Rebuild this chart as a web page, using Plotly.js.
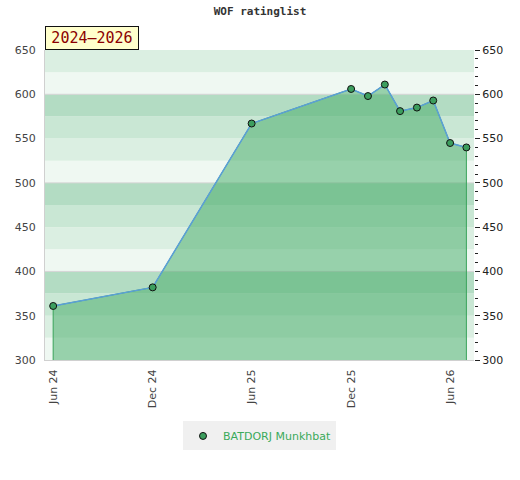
<!DOCTYPE html>
<html>
<head>
<meta charset="utf-8">
<script src="https://cdn.plot.ly/plotly-3.0.1.min.js"></script>
<style>html,body{margin:0;padding:0;background:#fff;}#chart{width:520px;height:480px;}</style>
</head>
<body>
<div id="chart"></div>
<script>
// ---- data ----
var playerName = "BATDORJ Munkhbat";
var dates = ["2024-06-01","2024-12-01","2025-06-01","2025-12-01","2026-01-01","2026-02-01","2026-03-01","2026-04-01","2026-05-01","2026-06-01","2026-07-01"];
var ratings = [361, 382, 567, 606, 598, 611, 581, 585, 593, 545, 540];
var tickDates = ["2024-06-01","2024-12-01","2025-06-01","2025-12-01","2026-06-01"];
var tickLabels = ["Jun 24","Dec 24","Jun 25","Dec 25","Jun 26"];
var periodLabel = "2024\u20132026";
var yMin = 300, yMax = 650;

// ---- style ----
var bandColors = ["#b3dcc3", "#c9e7d4", "#dbefe2", "#eff8f2"]; // top to bottom within each 100
var shapes = [];
for (var v = yMin; v < yMax; v += 25) {
  var idx = 3 - (((v - yMin) / 25) % 4);
  shapes.push({type:"rect", xref:"paper", yref:"y", x0:0, x1:1, y0:v, y1:v+25,
    fillcolor:bandColors[idx], line:{width:0}, layer:"below"});
}
for (var g = 400; g < yMax; g += 100) {
  shapes.push({type:"line", xref:"paper", yref:"y", x0:0, x1:1, y0:g, y1:g,
    line:{color:"#d4d4d4", width:1}, layer:"below"});
}

var fillX = [dates[0]].concat(dates).concat([dates[dates.length-1]]);
var fillY = [yMin].concat(ratings).concat([yMin]);

var traces = [
  {x: fillX, y: fillY, type:"scatter", mode:"lines", fill:"toself",
   fillcolor:"rgba(70,172,105,0.52)", line:{color:"#3aa35a", width:1},
   hoverinfo:"skip", showlegend:false},
  {x: dates, y: ratings, type:"scatter", mode:"lines",
   line:{color:"#5b9fd8", width:1.5}, showlegend:false},
  {x: dates, y: ratings, type:"scatter", mode:"markers", name: playerName,
   marker:{color:"#3c9e5e", size:7, line:{color:"#111", width:1}}},
  {x: [dates[0]], y: [ratings[0]], yaxis:"y2", type:"scatter", mode:"markers",
   marker:{opacity:0}, showlegend:false, hoverinfo:"skip"}
];

var layout = {
  width:520, height:480,
  margin:{l:45, r:46, t:50, b:120},
  paper_bgcolor:"#ffffff", plot_bgcolor:"#ffffff",
  font:{family:"DejaVu Sans", size:11, color:"#444"},
  title:{text:"WOF ratinglist", x:0.5, xanchor:"center", y:0.985, yanchor:"top",
    font:{family:"DejaVu Sans Mono", size:11, color:"#333", weight:"bold"}},
  xaxis:{type:"date", range:["2024-05-17","2026-07-15"], tickvals:tickDates, ticktext:tickLabels,
    tickangle:-90, showgrid:false, zeroline:false, showline:true, linecolor:"#d0d0d0",
    ticks:"outside", ticklen:4, tickcolor:"rgba(0,0,0,0)", tickfont:{color:"#444", size:11}},
  yaxis:{range:[yMin, yMax], dtick:50, showgrid:false, zeroline:false, showline:true,
    linecolor:"#d0d0d0", mirror:false, ticks:"outside", ticklen:6, tickcolor:"rgba(0,0,0,0)",
    tickfont:{color:"#444", size:11}},
  yaxis2:{range:[yMin, yMax], dtick:50, overlaying:"y", side:"right", showgrid:false,
    zeroline:false, showline:false, ticks:"outside", ticklen:5, tickcolor:"#222",
    tickfont:{color:"#222", size:11},
    minor:{dtick:10, ticks:"outside", ticklen:3, tickcolor:"#222", showgrid:false}},
  shapes: shapes,
  annotations:[{xref:"paper", yref:"paper", x:0, y:1, xanchor:"left", yanchor:"bottom",
    text:periodLabel, showarrow:false, bgcolor:"#ffffcc", bordercolor:"#111", borderwidth:1,
    borderpad:3, width:86, height:16, align:"center",
    font:{family:"DejaVu Sans Mono", size:15, color:"#8b0000"}}],
  showlegend:true,
  legend:{orientation:"h", x:0.5, xanchor:"center", y:-0.245, yanchor:"middle",
    itemwidth:30, bgcolor:"#f0f0f0", font:{color:"#3aaa5a", size:11}}
};

Plotly.newPlot("chart", traces, layout, {displayModeBar:false, staticPlot:true});
</script>
</body>
</html>
